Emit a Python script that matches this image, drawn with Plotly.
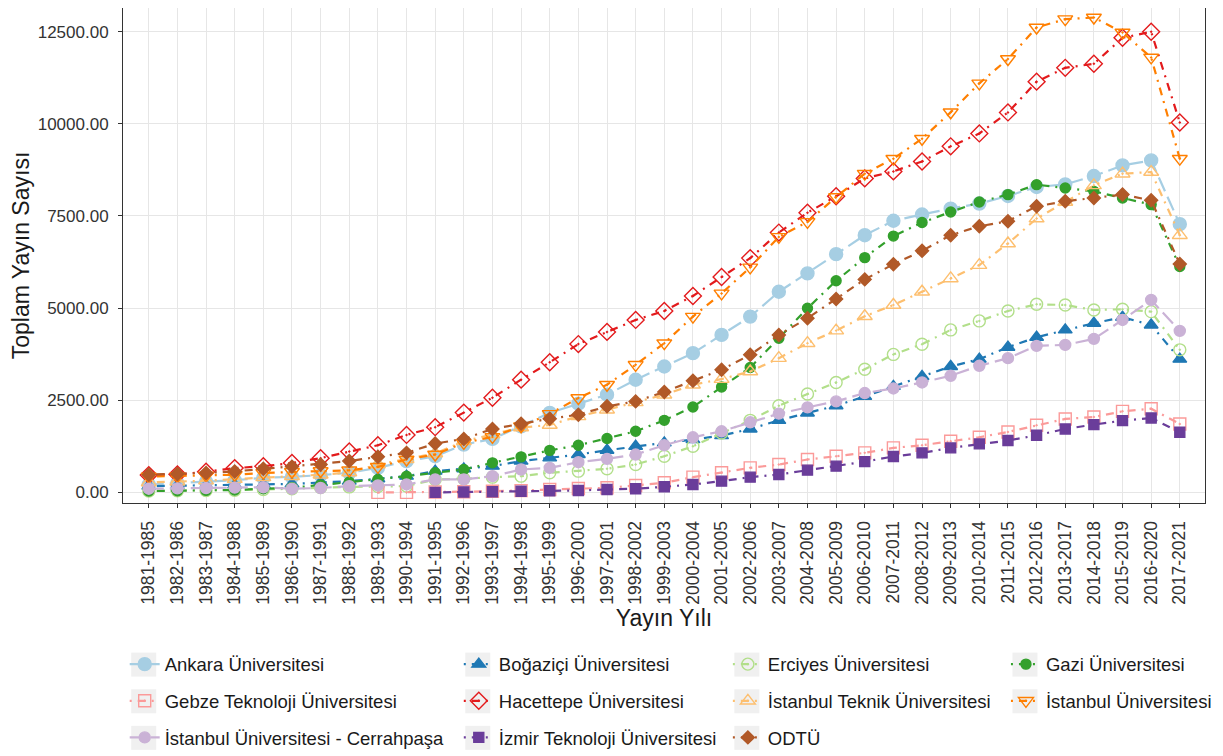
import plotly.graph_objects as go

periods = ["1981-1985", "1982-1986", "1983-1987", "1984-1988", "1985-1989", "1986-1990",
           "1987-1991", "1988-1992", "1989-1993", "1990-1994", "1991-1995", "1992-1996",
           "1993-1997", "1994-1998", "1995-1999", "1996-2000", "1997-2001", "1998-2002",
           "1999-2003", "2000-2004", "2001-2005", "2002-2006", "2003-2007", "2004-2008",
           "2005-2009", "2006-2010", "2007-2011", "2008-2012", "2009-2013", "2010-2014",
           "2011-2015", "2012-2016", "2013-2017", "2014-2018", "2015-2019", "2016-2020",
           "2017-2021"]

ankara = [215, 250, 290, 330, 397, 420, 470, 532, 668, 848, 982, 1298, 1452, 1794, 2156,
          2407, 2651, 3057, 3417, 3778, 4274, 4770, 5445, 5943, 6465, 6979, 7370, 7540,
          7701, 7837, 8043, 8286, 8358, 8583, 8872, 9008, 7277]
bogazici = [170, 180, 190, 200, 210, 230, 270, 306, 370, 441, 577, 641, 713, 850, 938,
            1028, 1145, 1253, 1344, 1434, 1542, 1722, 1956, 2156, 2353, 2605, 2876, 3146,
            3417, 3616, 3940, 4211, 4409, 4590, 4752, 4544, 3616]
erciyes = [40, 45, 50, 60, 80, 100, 130, 150, 160, 171, 352, 370, 414, 441, 532, 577, 641,
           757, 982, 1253, 1614, 1956, 2353, 2670, 2984, 3340, 3745, 4022, 4409, 4653, 4923,
           5104, 5085, 4950, 4969, 4905, 3868]
gazi = [40, 45, 55, 65, 100, 130, 200, 279, 352, 441, 532, 622, 803, 965, 1140, 1280, 1461,
        1659, 1956, 2318, 2859, 3390, 4184, 4996, 5743, 6370, 6955, 7322, 7609, 7880, 8080,
        8350, 8259, 8169, 7988, 7809, 6130]
gebze = [None, None, None, None, None, None, None, None, 0, 0, 10, 20, 30, 50, 81, 108, 126,
         189, 261, 414, 532, 667, 757, 893, 982, 1073, 1208, 1280, 1388, 1496, 1641, 1821,
         1993, 2047, 2200, 2272, 1858]
hacettepe = [470, 490, 560, 660, 710, 800, 930, 1110, 1280, 1560, 1770, 2165, 2570, 3060,
             3530, 4025, 4355, 4680, 4923, 5330, 5843, 6357, 7050, 7590, 8034, 8520, 8710,
             8980, 9390, 9740, 10310, 11145, 11520, 11630, 12335, 12497, 10036]
itu = [270, 290, 320, 360, 410, 440, 480, 540, 757, 900, 1055, 1388, 1569, 1760, 1830, 2064,
       2245, 2443, 2651, 2921, 3075, 3281, 3643, 4049, 4390, 4780, 5085, 5445, 5806, 6167,
       6754, 7430, 7880, 8331, 8648, 8692, 6979]
istanbul = [430, 440, 460, 480, 530, 560, 580, 600, 695, 893, 1028, 1344, 1507, 1794, 2130,
            2562, 2921, 3462, 4049, 4770, 5400, 6105, 6933, 7340, 8015, 8648, 9054, 9595,
            10314, 11099, 11758, 12613, 12840, 12885, 12478, 11802, 9054]
cerrahpasa = [100, 110, 120, 130, 140, 100, 120, 171, 189, 216, 352, 352, 441, 622, 667, 820,
              911, 1028, 1280, 1496, 1659, 1902, 2137, 2308, 2470, 2697, 2820, 2984, 3165,
              3435, 3643, 3976, 4003, 4166, 4680, 5221, 4382]
izmir = [None, None, None, None, None, None, None, None, None, None, 0, 10, 20, 30, 45, 54,
         81, 99, 153, 216, 306, 414, 487, 604, 713, 835, 975, 1073, 1208, 1316, 1407, 1550,
         1722, 1840, 1948, 2020, 1632]
odtu = [480, 500, 530, 570, 640, 700, 760, 850, 965, 1073, 1325, 1452, 1723, 1866, 2000, 2110,
        2335, 2470, 2724, 3030, 3327, 3733, 4274, 4725, 5248, 5780, 6190, 6554, 6979, 7222,
        7358, 7763, 7899, 7988, 8080, 7926, 6200]

names = ["Ankara Üniversitesi", "Boğaziçi Üniversitesi", "Erciyes Üniversitesi",
         "Gazi Üniversitesi", "Gebze Teknoloji Üniversitesi", "Hacettepe Üniversitesi",
         "İstanbul Teknik Üniversitesi", "İstanbul Üniversitesi",
         "İstanbul Üniversitesi - Cerrahpaşa", "İzmir Teknoloji Üniversitesi", "ODTÜ"]
series = [ankara, bogazici, erciyes, gazi, gebze, hacettepe, itu, istanbul, cerrahpasa,
          izmir, odtu]
colors = ["#A6CEE3", "#1F78B4", "#B2DF8A", "#33A02C", "#FB9A99", "#E31A1C", "#FDBF6F",
          "#FF7F00", "#CAB2D6", "#6A3D9A", "#B15928"]
symbols = ["circle", "triangle-up", "circle-open-dot", "circle", "square-open-dot",
           "diamond-open-dot", "triangle-up-open-dot", "triangle-down-open-dot", "circle",
           "square", "diamond"]
msizes = [13, 12, 12, 10, 12, 13, 13, 13, 11, 10, 10]
dotdash = "2px,6px,8px,6px"
longdash = "15px,6px"
dashes = [longdash, dotdash, dotdash, dotdash, dotdash, dotdash, dotdash, dotdash,
          longdash, dotdash, dotdash]

# legend layout: column/row for each series (row-major like reference)
leg_col = [0, 1, 2, 3, 0, 1, 2, 3, 0, 1, 2]
leg_row = [0, 0, 0, 0, 1, 1, 1, 1, 2, 2, 2]

FONT = "Liberation Sans, Arial, sans-serif"
# page has an 8px body margin, so figure coordinates = page coordinates - 8
W, H = 1215, 748
L, R, T, B = 115.3, 18, 0, 252.7
pw = W - L - R
ph = H - T - B

col_text_px = [157, 491, 760, 1038]
row_px = [657, 693.7, 730.3]

fig = go.Figure()
layout_legends = {}
shapes = []
for i, (nm, ys) in enumerate(zip(names, series)):
    lname = "legend" if i == 0 else f"legend{i + 1}"
    fig.add_trace(go.Scatter(
        x=periods, y=ys, name=nm, mode="lines+markers",
        line=dict(color=colors[i], width=2.2, dash=dashes[i]),
        marker=dict(symbol=symbols[i], size=msizes[i], color=colors[i],
                    line=dict(color=colors[i], width=1.4)),
        legend=lname,
    ))
    lx_px = col_text_px[leg_col[i]] - 40
    ly_px = row_px[leg_row[i]]
    layout_legends[lname] = dict(
        x=(lx_px - L) / pw, y=(H - B - ly_px) / ph, xanchor="left", yanchor="middle",
        orientation="v", bgcolor="rgba(0,0,0,0)", borderwidth=0,
        font=dict(family=FONT, size=18.5, color="#1A1A1A"), itemwidth=30,
    )
    cx = lx_px + 19
    cy = ly_px
    shapes.append(dict(type="rect", xref="paper", yref="paper",
                       x0=(cx - 12.5 - L) / pw, x1=(cx + 12.5 - L) / pw,
                       y0=(H - B - cy - 12) / ph, y1=(H - B - cy + 12) / ph,
                       fillcolor="#F0F0F0", line=dict(width=0), layer="below"))

fig.update_layout(
    width=W, height=H,
    margin=dict(l=L, r=R, t=T, b=B, autoexpand=False),
    paper_bgcolor="white", plot_bgcolor="white",
    font=dict(family=FONT, color="#1A1A1A"),
    showlegend=True,
    shapes=shapes,
    **layout_legends,
)

fig.update_xaxes(
    type="category", categoryorder="array", categoryarray=periods,
    range=[-0.9, 36.88], tickangle=-90, automargin=False, ticklabelstandoff=6,
    tickfont=dict(family=FONT, size=17.5, color="#333333"),
    showgrid=True, gridcolor="#E6E6E6", gridwidth=1,
    showline=True, linecolor="#333333", linewidth=1, mirror=True,
    ticks="outside", ticklen=4, tickcolor="#333333",
    title=dict(text="Yayın Yılı", font=dict(family=FONT, size=23, color="#1A1A1A"),
               standoff=3),
    zeroline=False,
)
fig.update_yaxes(
    range=[-287, 13143], tickvals=[0, 2500, 5000, 7500, 10000, 12500], tickformat=".2f",
    automargin=False, ticklabelstandoff=6,
    tickfont=dict(family=FONT, size=17, color="#333333"),
    showgrid=True, gridcolor="#E6E6E6", gridwidth=1,
    showline=True, linecolor="#333333", linewidth=1, mirror=True,
    ticks="outside", ticklen=4, tickcolor="#333333",
    title=dict(text="Toplam Yayın Sayısı", font=dict(family=FONT, size=23, color="#1A1A1A"),
               standoff=6),
    zeroline=False,
)

fig.write_html("out.html")
